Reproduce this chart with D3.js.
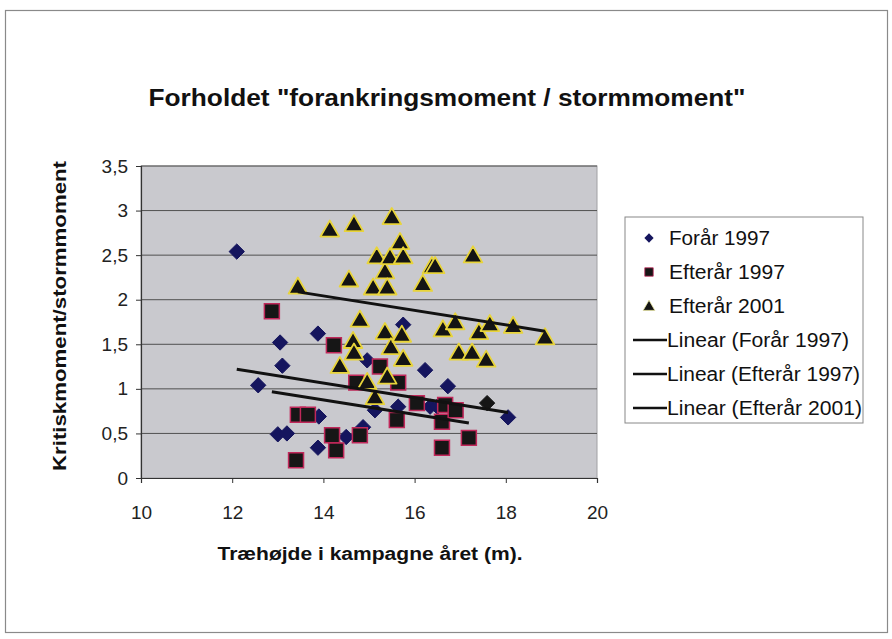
<!DOCTYPE html>
<html><head><meta charset="utf-8">
<script src="https://cdn.jsdelivr.net/npm/d3@7"></script>
<style>body{margin:0;background:#fff}svg{display:block}text{font-family:"Liberation Sans",Arial,sans-serif}</style>
</head><body>
<script>
// ---- data ----
const foraar1997 = [
  [12.1,2.54],[12.57,1.04],[13.05,1.52],[13.1,1.26],[13.0,0.49],[13.2,0.50],
  [13.88,1.62],[13.9,0.69],[13.88,0.34],[14.5,0.46],[14.87,0.57],[14.96,1.32],
  [15.13,0.76],[15.64,0.80],[15.75,1.72],[16.23,1.21],[16.34,0.80],[16.5,0.80],
  [16.73,1.03],[18.05,0.68]
];
const foraar1997Dark = [[17.59,0.84]];
const efteraar1997 = [
  [12.87,1.87],[13.44,0.71],[13.66,0.71],[13.4,0.20],[14.23,1.49],[14.19,0.48],
  [14.28,0.31],[14.72,1.07],[14.8,0.48],[15.24,1.25],[15.64,1.07],[15.61,0.65],
  [16.05,0.84],[16.6,0.63],[16.67,0.82],[16.9,0.76],[17.19,0.45],[16.6,0.34]
];
const efteraar2001 = [
  [13.44,2.14],[14.14,2.78],[14.56,2.22],[14.67,2.84],[14.8,1.77],[14.65,1.53],
  [14.67,1.40],[14.36,1.25],[14.96,1.07],[15.13,0.90],[15.09,2.13],[15.17,2.48],
  [15.35,2.31],[15.4,2.13],[15.46,2.47],[15.5,2.92],[15.68,2.64],[15.75,2.48],
  [15.35,1.63],[15.48,1.46],[15.4,1.13],[15.72,1.60],[15.75,1.33],[16.18,2.17],
  [16.38,2.37],[16.45,2.37],[16.62,1.66],[16.89,1.74],[16.97,1.40],[17.26,1.40],
  [17.28,2.49],[17.41,1.63],[17.57,1.32],[17.65,1.72],[18.16,1.70],[18.86,1.57]
];
const xTicks = [10,12,14,16,18,20];
const yTicks = [0,0.5,1,1.5,2,2.5,3,3.5];
const legendLabels = ["Forår 1997","Efterår 1997","Efterår 2001","Linear (Forår 1997)","Linear (Efterår 1997)","Linear (Efterår 2001)"];

const W=892,H=639;
const svg=d3.select("body").append("svg").attr("width",W).attr("height",H);
svg.append("rect").attr("x",5.5).attr("y",10.5).attr("width",882).attr("height",622)
  .attr("fill","#fff").attr("stroke","#8a8a8a").attr("stroke-width",1.2);

const x=d3.scaleLinear().domain([10,20]).range([141,597]);
const y=d3.scaleLinear().domain([0,3.5]).range([478,166]);

// plot area
svg.append("rect").attr("x",x(10)).attr("y",y(3.5)).attr("width",x(20)-x(10)).attr("height",y(0)-y(3.5))
  .attr("fill","#c9c9ce").attr("stroke","#a0a0a4").attr("stroke-width",1);
// gridlines
svg.append("g").selectAll("line").data(yTicks.filter(d=>d>0)).join("line")
  .attr("x1",x(10)).attr("x2",x(20)).attr("y1",d=>y(d)).attr("y2",d=>y(d))
  .attr("stroke","#505050").attr("stroke-width",1);

// axes
const yAxis=d3.axisLeft(y).tickValues(yTicks).tickSize(5).tickPadding(8)
  .tickFormat(d=>d3.format("")(d).replace(".",","));
const gy=svg.append("g").attr("transform",`translate(${x(10)},0)`).call(yAxis);
const xAxis=d3.axisBottom(x).tickValues(xTicks).tickSize(5).tickPadding(23);
const gx=svg.append("g").attr("transform",`translate(0,${y(0)})`).call(xAxis);
[gx,gy].forEach(g=>{
  g.select(".domain").attr("stroke","#333").attr("stroke-width",1.2);
  g.selectAll(".tick line").attr("stroke","#333");
  g.selectAll(".tick text").attr("font-size",19).attr("fill","#222").attr("font-family","Liberation Sans, Arial, sans-serif");
});

// markers
const diamond=d3.symbol().type(d3.symbolDiamond2).size(150);
const square=d3.symbol().type(d3.symbolSquare2).size(285);
const tri=d3.symbol().type(d3.symbolTriangle).size(150);

svg.append("g").selectAll("path").data(foraar1997).join("path")
  .attr("d",diamond).attr("transform",d=>`translate(${x(d[0])},${y(d[1])})`)
  .attr("fill","#15155e").attr("stroke","#15155e");
svg.append("g").selectAll("path").data(foraar1997Dark).join("path")
  .attr("d",diamond).attr("transform",d=>`translate(${x(d[0])},${y(d[1])})`)
  .attr("fill","#151515").attr("stroke","#151515");
svg.append("g").selectAll("path").data(efteraar1997).join("path")
  .attr("d",square).attr("transform",d=>`translate(${x(d[0])},${y(d[1])})`)
  .attr("fill","#161616").attr("stroke","#c0285a").attr("stroke-width",1.5);
svg.append("g").selectAll("path").data(efteraar2001).join("path")
  .attr("d",tri).attr("transform",d=>`translate(${x(d[0])},${y(d[1])+1})`)
  .attr("fill","#141414").attr("stroke","#e8d43a").attr("stroke-width",1.8).attr("stroke-linejoin","round");

// linear trendlines (least squares, from data)
function fit(pts){
  const mx=d3.mean(pts,d=>d[0]),my=d3.mean(pts,d=>d[1]);
  const b=d3.sum(pts,d=>(d[0]-mx)*(d[1]-my))/d3.sum(pts,d=>(d[0]-mx)**2);
  const a=my-b*mx; const [x0,x1]=d3.extent(pts,d=>d[0]);
  return [[x0,a+b*x0],[x1,a+b*x1]];
}
const trends=[fit(foraar1997.concat(foraar1997Dark)),fit(efteraar1997),fit(efteraar2001)];
const line=d3.line().x(d=>x(d[0])).y(d=>y(d[1]));
svg.append("g").selectAll("path").data(trends).join("path")
  .attr("d",line).attr("stroke","#111").attr("stroke-width",3).attr("fill","none");

// titles
svg.append("text").attr("x",447).attr("y",106).attr("text-anchor","middle")
  .attr("font-size",23).attr("font-weight","bold").attr("fill","#111")
  .attr("textLength",597).attr("lengthAdjust","spacingAndGlyphs")
  .text('Forholdet "forankringsmoment / stormmoment"');
svg.append("text").attr("x",370).attr("y",560).attr("text-anchor","middle")
  .attr("font-size",18).attr("font-weight","bold").attr("fill","#111")
  .attr("textLength",305).attr("lengthAdjust","spacingAndGlyphs")
  .text("Træhøjde i kampagne året (m).");
svg.append("text").attr("transform","translate(66,316) rotate(-90)").attr("text-anchor","middle")
  .attr("font-size",18).attr("font-weight","bold").attr("fill","#111")
  .attr("textLength",310).attr("lengthAdjust","spacingAndGlyphs")
  .text("Kritiskmoment/stormmoment");

// legend
const lg=svg.append("g");
lg.append("rect").attr("x",625).attr("y",217).attr("width",238).attr("height",206)
  .attr("fill","#fff").attr("stroke","#888").attr("stroke-width",1);
const ly=i=>238+i*34;
const legendWidths=[101,116,116,182,193,195];
legendLabels.forEach((t,i)=>{
  const cy=ly(i);
  if(i===0) lg.append("path").attr("d",d3.symbol().type(d3.symbolDiamond2).size(55)).attr("transform",`translate(649,${cy})`).attr("fill","#15155e");
  if(i===1) lg.append("path").attr("d",d3.symbol().type(d3.symbolSquare2).size(90)).attr("transform",`translate(649,${cy})`).attr("fill","#161616").attr("stroke","#c0285a").attr("stroke-width",0.8);
  if(i===2) lg.append("path").attr("d",d3.symbol().type(d3.symbolTriangle).size(60)).attr("transform",`translate(649,${cy+1})`).attr("fill","#141414").attr("stroke","#e8e6a0").attr("stroke-width",0.8);
  if(i>=3) lg.append("line").attr("x1",633).attr("x2",667).attr("y1",cy).attr("y2",cy).attr("stroke","#111").attr("stroke-width",2.5);
  lg.append("text").attr("x",i>=3?667:669).attr("y",cy+7).attr("font-size",19.5).attr("fill","#111")
    .attr("textLength",legendWidths[i]).attr("lengthAdjust","spacingAndGlyphs").text(t);
});
</script>
</body></html>
